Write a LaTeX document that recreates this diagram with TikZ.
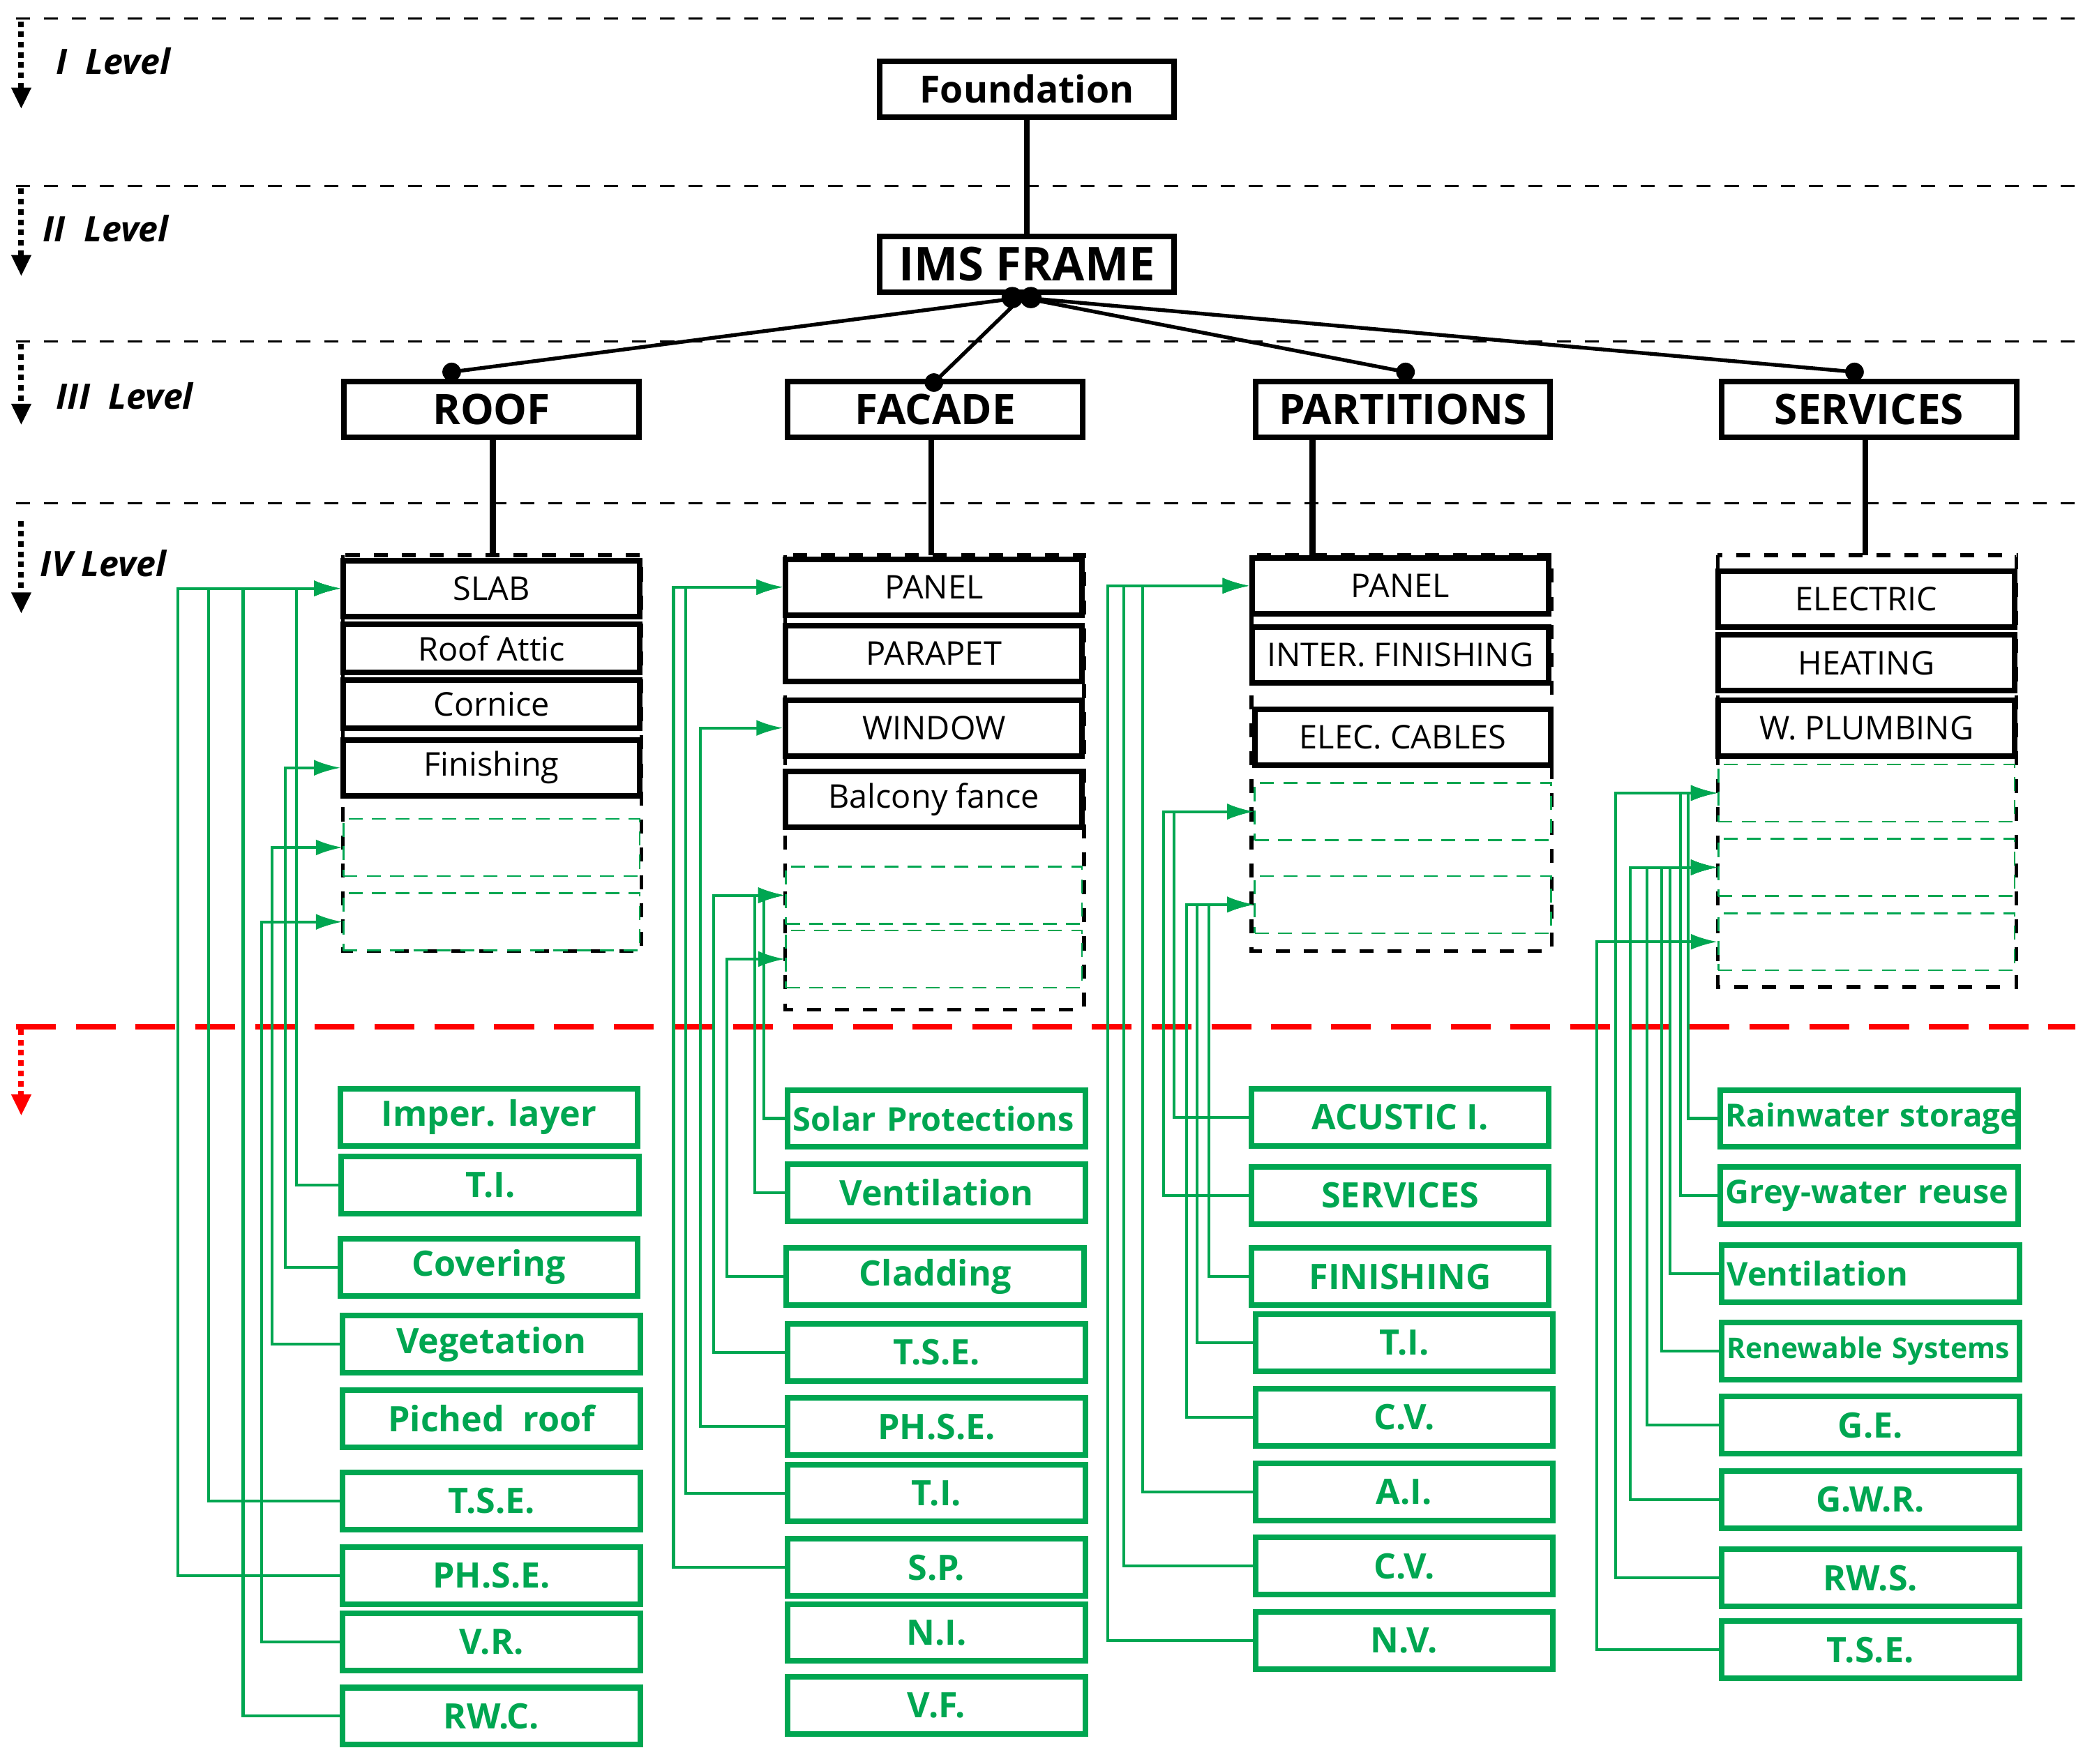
\documentclass[tikz,border=0pt]{standalone}
\usepackage{fontspec}
\setmainfont{Open Sans}
\usetikzlibrary{arrows.meta, positioning}
\definecolor{wgreen}{RGB}{0,166,81}

% one orthogonal green connector: from box, down-left bus at x, into target slot
\newcommand{\wire}[3]{\draw[wire] (#1.west) -- (#2,0 |- #1.west) |- (#3.west);}

\begin{document}
\begin{tikzpicture}[x=0.1mm, y=-0.1mm,
    frame/.style = {draw, very thick, minimum width=22.2mm, minimum height=4.2mm, inner sep=0pt, font=\bfseries\fontsize{9}{10}\selectfont},
    part/.style = {draw, very thick, minimum width=22.3mm, minimum height=4.2mm, inner sep=0pt, font=\fontsize{7}{8}\selectfont},
    slot/.style = {draw=wgreen, densely dashed, minimum width=22.3mm, minimum height=4.3mm, inner sep=0pt},
    item/.style = {draw=wgreen, very thick, minimum width=22.4mm, minimum height=4.3mm, inner sep=0pt, text=wgreen, font=\bfseries\fontsize{7.5}{8}\selectfont},
    left item/.style = {item, text width=21.6mm, align=left, inner xsep=0.4mm, font=\bfseries\fontsize{7}{8}\selectfont},
    outer/.style = {draw, thick, dashed},
    level/.style = {dashed, thin},
    wire/.style = {draw=wgreen, semithick, -{Latex[length=2mm,width=1.2mm]}},
    down/.style = {very thick, densely dotted, -{Triangle[length=1.6mm,width=1.4mm]}},
    lbl/.style = {anchor=west, font=\bfseries\itshape\fontsize{7.5}{8}\selectfont}
  ]
\useasboundingbox (0,0) rectangle (1568,1328);

% levels
\foreach \y in {14,140,257,379} \draw[level] (12,\y) -- (1562,\y);
\draw[down] (16,16) -- (16,82);
\draw[down] (16,142) -- (16,208);
\draw[down] (16,259) -- (16,320);
\draw[down] (16,392) -- (16,462);
\node[lbl] at (30,46) {I\ \ Level};
\node[lbl] at (20,172) {II\ \ Level};
\node[lbl] at (30,298) {III\ \ Level};
\node[lbl] at (18,424) {IV Level};
\draw[red, line width=1.2pt, dash pattern=on 3mm off 1.5mm] (12,773) -- (1562,773);
\draw[down, red] (16,775) -- (16,840);

% I-III levels
\node[frame, font=\bfseries\fontsize{8}{9}\selectfont] (found) at (773,67) {Foundation};
\node[frame, font=\bfseries\fontsize{10}{11}\selectfont] (ims) at (773,199) {IMS FRAME};
\node[frame] (roof) at (370,308) {ROOF};
\node[frame] (facade) at (704,308) {FACADE};
\node[frame] (part) at (1056,308) {PARTITIONS};
\node[frame] (serv) at (1407,308) {SERVICES};
\draw[very thick] (found) -- (ims);
\coordinate (hub) at (769,224);
\coordinate (dR) at (340,280);
\coordinate (dF) at (703,288);
\coordinate (dP) at (1058,280);
\coordinate (dS) at (1396,280);
\foreach \d in {dR,dF,dP,dS} {
  \draw[thick] (hub) -- (\d);
  \fill (\d) circle (0.7mm);
}
\fill (762,224) circle (0.8mm) (776,224) circle (0.8mm);
\draw[very thick] (371,330) -- (371,418);
\draw[very thick] (701,330) -- (701,418);
\draw[very thick] (988,330) -- (988,418);
\draw[very thick] (1404,330) -- (1404,418);

% IV level - roof
\draw[outer] (258,418) rectangle (483,716);
\node[part] (slab) at (370,443) {SLAB};
\node[part, minimum height=3.6mm] (attic) at (370,488) {Roof Attic};
\node[part, minimum height=3.6mm] (corn) at (370,530) {Cornice};
\node[part] (fin) at (370,578) {Finishing};
\node[slot] (rs1) at (370,638) {};
\node[slot] (rs2) at (370,694) {};
% IV level - facade
\draw[outer] (591,418) rectangle (816,760);
\node[part] (fpanel) at (703,442) {PANEL};
\node[part] (parap) at (703,492) {PARAPET};
\node[part] (win) at (703,548) {WINDOW};
\node[part] (balc) at (703,602) {Balcony fance};
\node[slot] (fs1) at (703,674) {};
\node[slot] (fs2) at (703,722) {};
% IV level - partitions
\draw[outer] (942,418) rectangle (1168,716);
\node[part] (ppanel) at (1054,441) {PANEL};
\node[part] (inter) at (1054,493) {INTER. FINISHING};
\node[part] (elec) at (1056,555) {ELEC. CABLES};
\node[slot] (ps1) at (1056,611) {};
\node[slot] (ps2) at (1056,681) {};
% IV level - services
\draw[outer] (1293,418) rectangle (1518,743);
\node[part] (electric) at (1405,451) {ELECTRIC};
\node[part] (heat) at (1405,499) {HEATING};
\node[part] (plumb) at (1405,548) {W. PLUMBING};
\node[slot] (ss1) at (1405,597) {};
\node[slot] (ss2) at (1405,653) {};
\node[slot] (ss3) at (1405,709) {};

% roof items
\node[item] (rImp) at (368,841) {Imper. layer};
\node[item] (rTI) at (369,892) {T.I.};
\node[item] (rCov) at (368,954) {Covering};
\node[item] (rVeg) at (370,1012) {Vegetation};
\node[item] (rPic) at (370,1068) {Piched\ \ roof};
\node[item] (rTSE) at (370,1130) {T.S.E.};
\node[item] (rPH) at (370,1186) {PH.S.E.};
\node[item] (rVR) at (370,1236) {V.R.};
\node[item] (rRW) at (370,1292) {RW.C.};
% facade items
\node[left item] (fSol) at (705,842) {\mbox{Solar Protections}};
\node[item] (fVen) at (705,898) {Ventilation};
\node[item] (fCla) at (704,961) {Cladding};
\node[item] (fTSE) at (705,1018) {T.S.E.};
\node[item] (fPH) at (705,1074) {PH.S.E.};
\node[item] (fTI) at (705,1124) {T.I.};
\node[item] (fSP) at (705,1180) {S.P.};
\node[item] (fNI) at (705,1229) {N.I.};
\node[item] (fVF) at (705,1284) {V.F.};
% partitions items
\node[item] (pAc) at (1054,841) {ACUSTIC I.};
\node[item] (pSer) at (1054,900) {SERVICES};
\node[item] (pFin) at (1054,961) {FINISHING};
\node[item] (pTI) at (1057,1011) {T.I.};
\node[item] (pCV) at (1057,1067) {C.V.};
\node[item] (pAI) at (1057,1123) {A.I.};
\node[item] (pCV2) at (1057,1179) {C.V.};
\node[item] (pNV) at (1057,1235) {N.V.};
% services items
\node[left item, font=\bfseries\fontsize{6.8}{8}\selectfont] (sRain) at (1407,842) {\mbox{Rainwater storage}};
\node[left item] (sGrey) at (1407,900) {\mbox{Grey-water reuse}};
\node[left item] (sVen) at (1408,959) {Ventilation};
\node[left item, font=\bfseries\fontsize{6.1}{7}\selectfont] (sRen) at (1408,1017) {\mbox{Renewable Systems}};
\node[item] (sGE) at (1408,1073) {G.E.};
\node[item] (sGWR) at (1408,1129) {G.W.R.};
\node[item] (sRWS) at (1408,1188) {RW.S.};
\node[item] (sTSE) at (1408,1242) {T.S.E.};

% connectors
\wire{rTI}{223}{slab}
\wire{rCov}{215}{fin}
\wire{rVeg}{205}{rs1}
\wire{rTSE}{157}{slab}
\wire{rPH}{134}{slab}
\wire{rVR}{197}{rs2}
\wire{rRW}{183}{slab}
\wire{fSP}{507}{fpanel}
\wire{fTI}{516}{fpanel}
\wire{fPH}{527}{win}
\wire{fTSE}{537}{fs1}
\wire{fCla}{547}{fs2}
\wire{fVen}{568}{fs1}
\wire{fSol}{575}{fs1}
\wire{pNV}{834}{ppanel}
\wire{pCV2}{846}{ppanel}
\wire{pAI}{860}{ppanel}
\wire{pSer}{876}{ps1}
\wire{pAc}{884}{ps1}
\wire{pCV}{893}{ps2}
\wire{pTI}{901}{ps2}
\wire{pFin}{910}{ps2}
\wire{sTSE}{1202}{ss3}
\wire{sRWS}{1216}{ss1}
\wire{sGWR}{1227}{ss2}
\wire{sGE}{1240}{ss2}
\wire{sRen}{1251}{ss2}
\wire{sVen}{1257}{ss2}
\wire{sGrey}{1265}{ss1}
\wire{sRain}{1271}{ss1}
\end{tikzpicture}
\end{document}
